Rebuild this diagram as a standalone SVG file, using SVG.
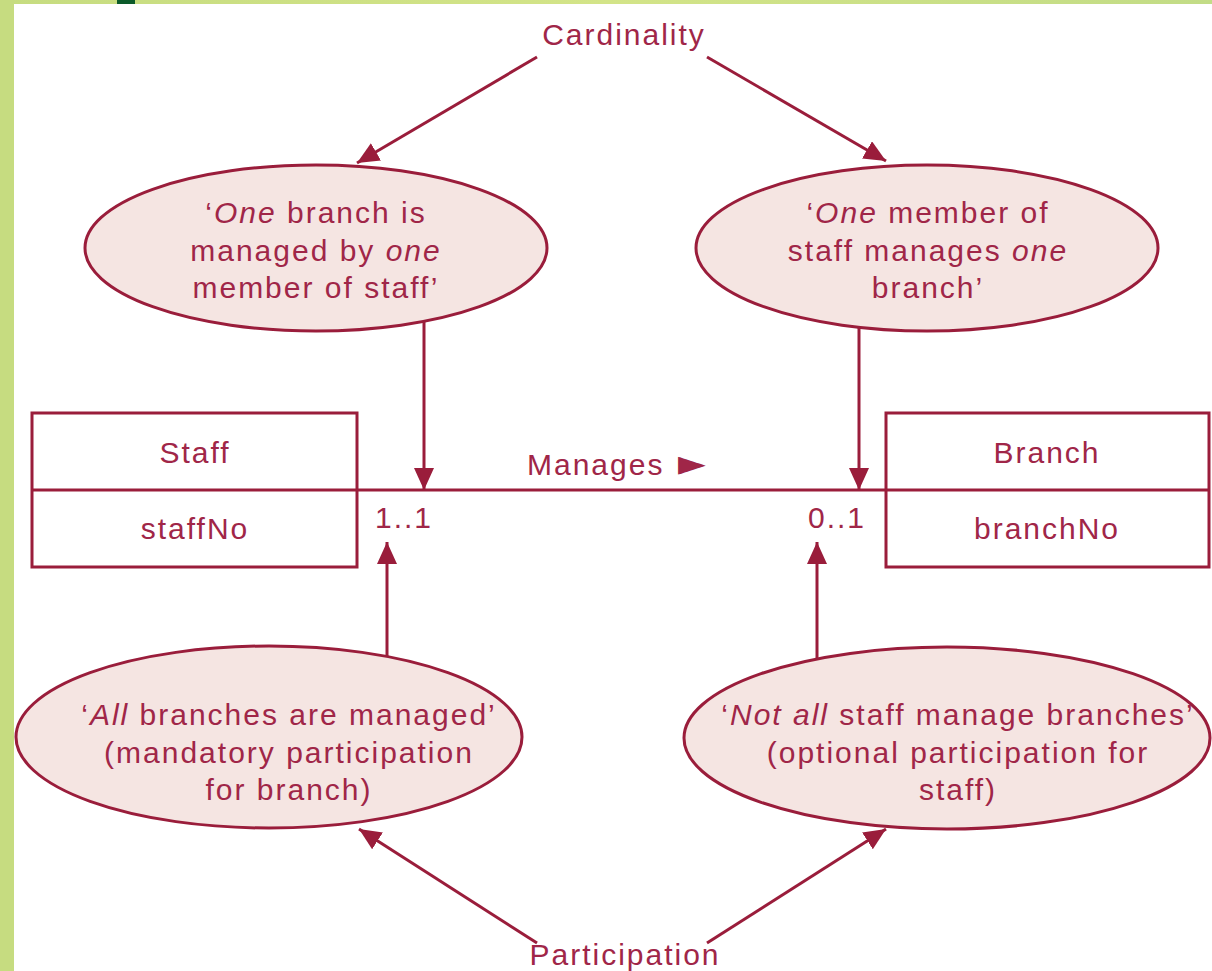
<svg xmlns="http://www.w3.org/2000/svg" width="1212" height="971" viewBox="0 0 1212 971">
<defs>
<linearGradient id="topg" x1="0" y1="0" x2="1" y2="0">
<stop offset="0" stop-color="#c6dc80"/>
<stop offset="0.5" stop-color="#d3e488"/>
<stop offset="1" stop-color="#c2dc86"/>
</linearGradient>
<marker id="ah" markerUnits="userSpaceOnUse" markerWidth="22" markerHeight="20" refX="22" refY="10" orient="auto" viewBox="0 0 22 20">
<path d="M0,0 L22,10 L0,20 z" fill="#9a1d3b"/>
</marker>
</defs>
<style>
text{font-family:"Liberation Sans",Arial,sans-serif;font-size:30px;fill:#a02648;letter-spacing:2px;text-anchor:middle}
.el{fill:#f5e5e2;stroke:#9a1d3b;stroke-width:3}
.bx{fill:#ffffff;stroke:#9a1d3b;stroke-width:3}
.ln{stroke:#9a1d3b;stroke-width:3;fill:none}
.ar{stroke:#9a1d3b;stroke-width:3;fill:none;marker-end:url(#ah)}
.it{font-style:italic}
</style>
<rect x="0" y="0" width="1212" height="971" fill="#ffffff"/>
<rect x="0" y="0" width="1212" height="4" fill="url(#topg)"/>
<rect x="0" y="0" width="14" height="971" fill="#c6dc80"/>
<rect x="117" y="0" width="18" height="4" fill="#0b5a2a"/>

<g id="cardinality">
<text x="624" y="45">Cardinality</text>
</g>
<g id="participation">
<text x="625" y="965">Participation</text>
</g>

<g id="card-left">
<ellipse class="el" cx="316" cy="248" rx="231" ry="83"/>
<text x="316" y="223">‘<tspan class="it">One</tspan> branch is</text>
<text x="316" y="261">managed by <tspan class="it">one</tspan></text>
<text x="316" y="298">member of staff’</text>
</g>
<g id="card-right">
<ellipse class="el" cx="927" cy="248" rx="231" ry="83"/>
<text x="928" y="223">‘<tspan class="it">One</tspan> member of</text>
<text x="928" y="261">staff manages <tspan class="it">one</tspan></text>
<text x="928" y="298">branch’</text>
</g>
<g id="part-left">
<ellipse class="el" cx="269" cy="737" rx="253" ry="91"/>
<text x="289" y="725">‘<tspan class="it">All</tspan> branches are managed’</text>
<text x="289" y="763">(mandatory participation</text>
<text x="289" y="800">for branch)</text>
</g>
<g id="part-right">
<ellipse class="el" cx="947" cy="738" rx="263" ry="91"/>
<text x="958" y="725">‘<tspan class="it">Not all</tspan> staff manage branches’</text>
<text x="958" y="763">(optional participation for</text>
<text x="958" y="800">staff)</text>
</g>

<g id="staff">
<rect class="bx" x="32" y="413" width="325" height="154"/>
<line class="ln" x1="32" y1="490" x2="357" y2="490"/>
<text x="195" y="463">Staff</text>
<text x="195" y="539">staffNo</text>
</g>
<g id="branch">
<rect class="bx" x="886" y="413" width="323" height="154"/>
<line class="ln" x1="886" y1="490" x2="1209" y2="490"/>
<text x="1047" y="463">Branch</text>
<text x="1047" y="539">branchNo</text>
</g>

<g id="connectors">
<line class="ln" x1="357" y1="490" x2="886" y2="490"/>
<text x="527" y="475" style="text-anchor:start">Manages<tspan x="678" style="font-family:'DejaVu Sans',sans-serif;font-size:36px;letter-spacing:0">►</tspan></text>
<text x="404" y="528">1..1</text>
<text x="837" y="528">0..1</text>
<line class="ar" x1="424" y1="322" x2="424" y2="490"/>
<line class="ar" x1="859" y1="327" x2="859" y2="490"/>
<line class="ar" x1="387" y1="656" x2="387" y2="542"/>
<line class="ar" x1="817" y1="659" x2="817" y2="542"/>
<line class="ar" x1="537" y1="57" x2="357" y2="163"/>
<line class="ar" x1="707" y1="57" x2="886" y2="161"/>
<line class="ar" x1="537" y1="943" x2="359" y2="829"/>
<line class="ar" x1="707" y1="943" x2="886" y2="829"/>
</g>
</svg>
